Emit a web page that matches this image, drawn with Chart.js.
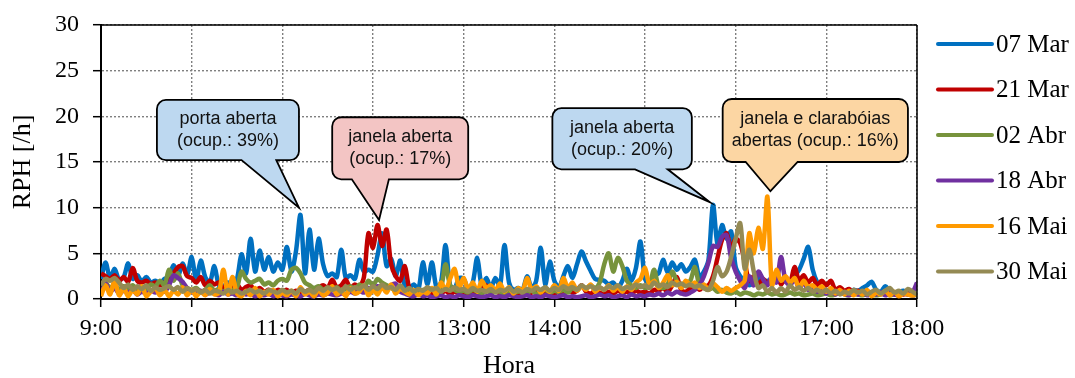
<!DOCTYPE html>
<html><head><meta charset="utf-8">
<script src="https://cdn.jsdelivr.net/npm/chart.js@4.4.1/dist/chart.umd.min.js"></script>
<style>html,body{margin:0;padding:0;background:#fff;}canvas{display:block;}</style>
</head><body>
<canvas id="c" width="1075" height="378"></canvas>
<script>
// ---- data ----
const hourLabels = ['9:00','10:00','11:00','12:00','13:00','14:00','15:00','16:00','17:00','18:00'];
const seriesLabels = ['07 Mar','21 Mar','02 Abr','18 Abr','16 Mai','30 Mai'];
const stepMinutes = 3; // sampling interval, minutes after 9:00

const rph07Mar = [
2.2,4.0,2.3,3.3,2.1,2.4,3.9,2.2,2.6,1.9,2.4,1.8,2.0,1.7,2.2,2.4,3.7,2.5,3.9,2.6,
4.6,2.0,4.2,2.4,1.8,3.6,1.5,1.4,1.8,1.6,2.2,4.9,2.8,6.6,3.0,5.3,3.2,4.6,3.0,4.0,
3.2,5.7,3.0,5.2,9.2,2.8,7.6,3.2,6.6,3.8,2.5,2.8,2.4,5.4,2.3,2.6,2.2,4.3,3.0,3.2,
3.0,4.8,7.2,3.6,4.4,2.5,4.2,1.4,1.2,1.6,1.0,4.0,1.6,4.0,1.3,1.8,5.9,1.5,1.2,2.3,
2.2,1.1,1.8,4.5,1.4,2.3,1.2,2.3,1.4,5.9,1.8,1.0,1.2,1.0,2.5,1.2,2.0,5.6,1.6,4.1,
2.0,1.3,2.5,3.6,2.3,3.8,5.2,4.1,3.1,2.2,2.1,2.0,1.6,1.8,1.2,2.0,3.3,2.0,3.4,6.3,
2.2,1.8,2.6,2.8,4.3,2.9,4.0,3.2,3.8,3.0,3.5,4.3,2.4,3.0,4.3,10.3,6.0,8.1,6.6,7.4,
3.5,2.5,2.0,1.5,1.8,2.3,1.5,2.0,1.8,2.4,1.9,2.2,1.7,2.5,3.2,4.4,5.7,3.2,1.8,1.2,
1.0,0.8,1.1,0.6,0.8,0.7,1.0,0.9,1.2,1.5,1.9,1.0,0.8,1.4,0.9,0.7,0.8,0.9,0.6,0.7,0.5];

const rph21Mar = [
2.8,2.5,2.2,2.6,2.0,2.4,1.9,3.4,2.0,1.8,2.0,1.6,1.8,1.5,1.8,2.0,2.8,3.5,3.6,2.5,
2.3,1.8,2.4,1.5,2.0,1.6,1.8,1.2,1.5,1.2,1.6,1.0,1.3,1.5,0.9,1.2,0.8,1.0,0.7,1.0,
0.8,1.0,0.6,0.9,0.7,0.8,1.0,0.8,1.2,1.5,1.2,2.1,1.3,1.5,2.1,1.2,1.6,1.3,2.4,7.2,
5.6,8.1,5.8,7.6,3.8,2.5,2.0,3.6,1.2,0.8,1.0,0.6,0.8,0.5,0.7,0.6,0.9,0.5,0.8,0.6,
0.7,0.5,0.8,0.6,1.0,1.5,0.7,0.9,0.6,0.8,0.5,0.7,0.6,0.8,0.5,0.7,0.9,0.6,0.8,0.7,
0.6,0.8,0.5,1.2,0.7,0.9,1.5,0.8,0.6,0.9,0.7,0.5,0.8,0.6,0.9,0.7,0.8,0.6,0.9,0.7,
0.8,0.6,1.0,0.9,1.2,0.8,1.5,2.4,1.0,0.8,1.2,1.6,1.0,1.4,1.5,2.5,4.5,6.5,7.2,5.5,
6.6,6.1,4.0,2.0,2.5,1.5,2.2,1.8,2.0,2.6,1.6,2.2,1.8,3.5,2.0,2.6,1.8,2.3,1.5,2.0,
1.5,2.0,1.0,1.3,0.9,1.1,0.7,0.9,0.6,0.8,0.5,0.7,0.6,0.8,0.5,0.6,0.7,0.5,0.6,0.4,0.5];

const rph02Abr = [
1.5,1.8,1.2,1.6,1.0,1.4,1.2,1.5,1.0,1.3,1.1,1.6,1.4,2.0,1.5,3.2,2.0,2.8,1.5,1.2,
1.0,1.2,0.8,1.0,1.5,0.9,1.1,0.8,1.2,1.0,1.3,3.0,2.2,1.8,2.0,2.2,1.6,1.8,1.5,2.0,
2.2,2.0,3.2,3.4,2.8,1.8,1.5,1.2,1.4,1.0,1.2,1.0,1.3,0.9,1.1,1.4,1.0,1.6,1.2,2.0,
1.5,2.2,1.8,1.5,1.2,1.0,1.2,0.8,1.0,0.9,0.7,1.0,0.8,1.1,0.9,1.2,3.8,1.5,1.0,0.8,
0.9,0.7,1.0,0.8,0.6,0.9,0.7,1.0,0.8,0.6,0.9,0.7,0.8,1.0,0.7,0.9,0.6,0.8,1.0,0.7,
0.9,0.8,1.0,0.7,1.2,1.0,1.4,1.2,1.5,1.2,1.8,3.8,5.0,3.0,4.5,3.6,2.0,1.5,1.2,1.5,
1.2,1.5,3.2,1.4,1.2,1.6,3.0,2.0,1.5,1.8,2.0,3.5,1.5,1.2,1.0,1.2,0.8,1.0,0.7,0.6,
0.8,0.5,0.7,0.6,0.4,0.6,0.5,0.7,0.5,0.6,0.4,0.5,0.7,0.5,0.6,0.4,0.5,0.6,0.4,0.5,
0.6,0.4,0.5,0.7,0.5,0.4,0.6,0.5,0.4,0.6,0.5,0.4,0.5,0.6,0.4,0.5,0.4,0.6,0.5,0.4,0.5];

const rph18Abr = [
0.5,1.7,0.8,1.2,0.6,0.9,0.7,1.0,0.5,0.8,0.6,0.9,0.7,1.0,0.8,1.5,2.6,2.3,1.9,1.2,
0.8,0.6,0.9,0.5,0.7,0.6,0.4,0.8,0.5,0.6,0.4,0.7,0.5,0.6,0.3,0.5,0.4,0.6,0.3,0.5,
0.4,0.3,0.5,0.4,0.3,0.6,0.4,0.3,0.5,0.4,0.6,0.5,0.4,0.6,0.5,0.8,0.6,0.9,0.7,1.2,
1.0,1.4,1.2,1.0,1.5,1.7,0.8,0.6,0.4,0.3,0.5,0.3,0.4,0.2,0.3,0.4,0.2,0.3,0.2,0.4,
0.3,0.2,0.4,0.3,0.2,0.3,0.4,0.2,0.3,0.2,0.4,0.3,0.2,0.3,0.4,0.2,0.3,0.2,0.4,0.3,
0.2,0.3,0.4,0.2,0.3,0.2,0.3,0.4,0.2,0.3,0.5,0.3,0.4,0.2,0.3,0.4,0.2,0.5,0.3,0.4,
0.3,0.5,0.4,0.6,0.4,0.7,0.5,0.8,0.6,0.5,0.7,1.0,1.5,2.5,4.0,5.8,5.7,6.8,7.0,4.5,
3.0,2.0,1.2,2.5,1.5,3.0,2.2,1.5,2.5,1.8,4.6,2.0,1.5,2.2,1.2,1.8,1.0,1.4,0.8,1.2,
0.6,0.9,0.5,0.8,0.6,0.4,0.7,0.5,0.8,0.4,0.6,0.5,0.7,0.4,0.6,0.5,0.4,0.6,0.5,0.7,1.8];

const rph16Mai = [
0.3,1.5,0.5,2.0,0.4,1.2,0.3,1.0,0.5,1.4,0.3,0.8,1.2,0.4,1.0,0.3,0.9,0.5,1.3,0.4,
1.0,0.3,0.8,0.4,1.1,0.5,0.7,3.2,0.5,2.4,0.6,0.3,0.9,0.4,1.2,0.3,0.8,0.5,1.0,0.3,
0.7,0.4,0.9,0.3,1.3,0.5,0.8,0.3,1.0,0.4,0.7,1.4,0.5,0.9,0.3,1.2,0.6,0.8,1.5,0.4,
1.0,0.5,1.3,0.7,1.6,0.6,1.1,0.8,0.5,1.0,0.4,0.8,0.6,1.2,0.5,1.8,1.0,2.2,3.3,1.2,
2.3,1.0,1.8,0.8,2.0,1.2,1.5,0.9,1.7,0.8,1.3,0.6,1.2,0.9,2.3,1.0,1.4,0.7,1.2,0.8,
1.5,0.9,2.3,1.2,1.8,0.9,1.4,1.0,1.6,0.8,1.2,1.0,1.5,0.9,1.3,0.8,1.4,1.0,1.8,2.2,
3.4,1.5,2.0,1.2,1.8,2.6,1.5,1.9,1.2,2.0,1.5,1.8,1.2,1.6,1.0,1.7,1.3,0.8,1.2,0.9,
1.2,1.5,2.0,7.2,5.0,7.8,5.5,11.2,1.5,3.2,2.0,2.5,1.8,2.3,1.2,2.0,1.3,1.5,1.0,1.4,
0.8,1.2,0.6,1.0,0.5,0.9,0.4,0.8,0.5,1.0,0.3,0.7,0.5,0.9,0.4,0.8,0.3,0.6,0.5,0.4,0.6];

const rph30Mai = [
1.5,2.2,2.0,2.3,1.8,1.2,1.6,1.0,1.4,1.1,1.5,0.9,1.3,1.0,1.2,1.4,1.0,1.3,0.8,1.2,
0.9,1.1,0.7,1.0,0.6,0.9,0.8,0.6,1.0,0.7,0.9,0.6,0.8,1.0,0.7,0.9,0.6,1.0,0.8,0.7,
1.0,0.7,0.9,0.6,1.1,0.8,1.0,0.7,1.2,0.9,1.3,1.0,1.2,0.8,1.4,1.0,1.3,1.1,1.5,1.0,
1.4,1.1,1.6,1.2,1.3,1.0,1.5,0.9,1.2,0.8,1.1,0.9,1.3,1.0,1.2,0.8,1.1,0.9,1.3,1.0,
1.1,0.8,1.2,0.9,1.0,0.8,1.1,0.7,1.0,0.9,1.2,0.8,1.0,0.7,1.1,0.9,1.2,1.0,1.3,0.9,
1.2,1.0,1.4,1.1,1.3,1.0,1.5,1.2,1.4,1.1,1.3,1.0,1.4,1.2,1.5,1.1,1.3,1.2,1.6,1.3,
1.5,1.2,1.8,1.4,1.6,1.3,1.8,1.5,1.7,1.4,1.6,1.3,1.5,1.2,1.0,2.0,3.5,2.5,3.0,4.6,
6.6,8.3,3.3,5.4,3.0,1.2,1.5,0.8,1.2,0.7,1.2,0.8,1.5,1.0,1.3,0.9,1.2,0.8,1.0,0.7,
1.0,0.6,0.9,0.5,0.8,0.6,1.0,0.7,0.9,0.5,0.8,1.0,0.6,0.9,1.2,0.7,0.9,0.6,1.1,0.8,0.5];

const seriesValues = [rph07Mar, rph21Mar, rph02Abr, rph18Abr, rph16Mai, rph30Mai];
const seriesColors = ['#0070C0','#C00000','#77933C','#7030A0','#FF9A00','#948A54'];

// callouts (anchored in data coordinates: minutes after 9:00, RPH)
const callouts = [
  {lines:['porta aberta','(ocup.: 39%)'], fill:'#BDD8F0', box:[37,131,15.2,21.8], base:[93,116], tip:[131,10.0]},
  {lines:['janela aberta','(ocup.: 17%)'], fill:'#F3C5C4', box:[153,243,13.1,19.9], base:[166,190.5], tip:[184,8.65]},
  {lines:['janela aberta','(ocup.: 20%)'], fill:'#BDD8F0', box:[298.7,391,14.2,20.9], base:[353.4,375], tip:[403,10.6]},
  {lines:['janela e clarabóias','abertas (ocup.: 16%)'], fill:'#FCD6A3', box:[411.4,534,15.0,21.9], base:[426.6,461], tip:[443,11.8]}
];

const SERIF = '"Liberation Serif","Times New Roman",serif';
const SANS = '"Liberation Sans",Arial,sans-serif';

const framePlugin = {
  id: 'frame',
  afterDatasetsDraw(chart) {
    const {ctx, chartArea: a, scales} = chart;
    ctx.save();
    ctx.strokeStyle = '#000';
    ctx.lineWidth = 1.5;
    ctx.beginPath();
    ctx.moveTo(a.left, a.top); ctx.lineTo(a.right, a.top);
    ctx.moveTo(a.right, a.top); ctx.lineTo(a.right, a.bottom);
    ctx.stroke();
    // callouts
    const xs = scales.x, ys = scales.y;
    callouts.forEach(c => {
      const l = xs.getPixelForValue(c.box[0]), r = xs.getPixelForValue(c.box[1]);
      const t = ys.getPixelForValue(c.box[3]), b = ys.getPixelForValue(c.box[2]);
      const bl = xs.getPixelForValue(c.base[0]), br = xs.getPixelForValue(c.base[1]);
      const tx = xs.getPixelForValue(c.tip[0]), ty = ys.getPixelForValue(c.tip[1]);
      const rad = 9;
      ctx.beginPath();
      ctx.moveTo(l + rad, t);
      ctx.lineTo(r - rad, t);
      ctx.arcTo(r, t, r, t + rad, rad);
      ctx.lineTo(r, b - rad);
      ctx.arcTo(r, b, r - rad, b, rad);
      ctx.lineTo(br, b);
      ctx.lineTo(tx, ty);
      ctx.lineTo(bl, b);
      ctx.lineTo(l + rad, b);
      ctx.arcTo(l, b, l, b - rad, rad);
      ctx.lineTo(l, t + rad);
      ctx.arcTo(l, t, l + rad, t, rad);
      ctx.closePath();
      ctx.fillStyle = c.fill;
      ctx.fill();
      ctx.lineWidth = 1.8;
      ctx.strokeStyle = '#000';
      ctx.lineJoin = 'miter';
      ctx.stroke();
      ctx.fillStyle = '#111';
      ctx.font = '18px ' + SANS;
      ctx.textAlign = 'center';
      ctx.textBaseline = 'middle';
      const cx = (l + r) / 2, cy = (t + b) / 2;
      ctx.fillText(c.lines[0], cx, cy - 11);
      ctx.fillText(c.lines[1], cx, cy + 11);
    });
    ctx.restore();
  },
  afterDraw(chart) {
    const {ctx, chartArea: a} = chart;
    ctx.save();
    ctx.font = '25px ' + SERIF;
    ctx.textAlign = 'left';
    ctx.textBaseline = 'middle';
    seriesLabels.forEach((lab, i) => {
      const y = a.top + 19 + i * 45.5;
      ctx.strokeStyle = seriesColors[i];
      ctx.lineWidth = 4;
      ctx.lineCap = 'round';
      ctx.beginPath();
      ctx.moveTo(a.right + 21, y); ctx.lineTo(a.right + 75, y);
      ctx.stroke();
      ctx.fillStyle = '#000';
      ctx.fillText(lab, a.right + 79, y + 1);
    });
    ctx.restore();
  }
};

const datasets = seriesLabels.map((lab, k) => ({
  label: lab,
  data: seriesValues[k].map((v, i) => ({x: i * stepMinutes, y: v})),
  borderColor: seriesColors[k],
  backgroundColor: seriesColors[k],
  borderWidth: 4.5,
  pointRadius: 0,
  tension: 0.3,
  fill: false,
  order: seriesLabels.length - k
}));

new Chart(document.getElementById('c'), {
  type: 'line',
  data: {datasets},
  plugins: [framePlugin],
  options: {
    responsive: false,
    animation: false,
    events: [],
    layout: {padding: {left: 0, right: 158, top: 25, bottom: 0}},
    plugins: {legend: {display: false}, tooltip: {enabled: false}},
    scales: {
      x: {
        type: 'linear', min: 0, max: 540,
        afterFit(s) { s.height = 79; s.paddingLeft = 0; s.paddingRight = 0; },
        afterBuildTicks(s) { s.ticks = hourLabels.map((_, i) => ({value: i * 60})); },
        ticks: {
          callback: (v) => hourLabels[Math.round(v / 60)],
          font: {family: SERIF, size: 24}, color: '#000', padding: 7, maxRotation: 0, autoSkip: false
        },
        grid: {color: '#7f7f7f', lineWidth: 1.4, tickColor: '#000', tickWidth: 1.5, tickLength: 8, drawTicks: true},
        border: {display: true, color: '#000', width: 2, dash: [2, 2]},
        title: {display: true, text: 'Hora', font: {family: SERIF, size: 26, lineHeight: 0.9}, color: '#000', padding: {top: 0, bottom: 0}}
      },
      y: {
        min: 0, max: 30,
        afterFit(s) { s.width = 101; s.paddingTop = 0; s.paddingBottom = 0; },
        ticks: {stepSize: 5, font: {family: SERIF, size: 24}, color: '#000', padding: 14},
        grid: {color: '#7f7f7f', lineWidth: 1.4, tickColor: '#000', tickWidth: 1.5, tickLength: 8, drawTicks: true},
        border: {display: true, color: '#000', width: 2, dash: [2, 2]},
        title: {display: true, text: 'RPH [/h]', font: {family: SERIF, size: 26, lineHeight: 1}, color: '#000', padding: {top: 10, bottom: 0}}
      }
    }
  }
});
</script>
</body></html>
